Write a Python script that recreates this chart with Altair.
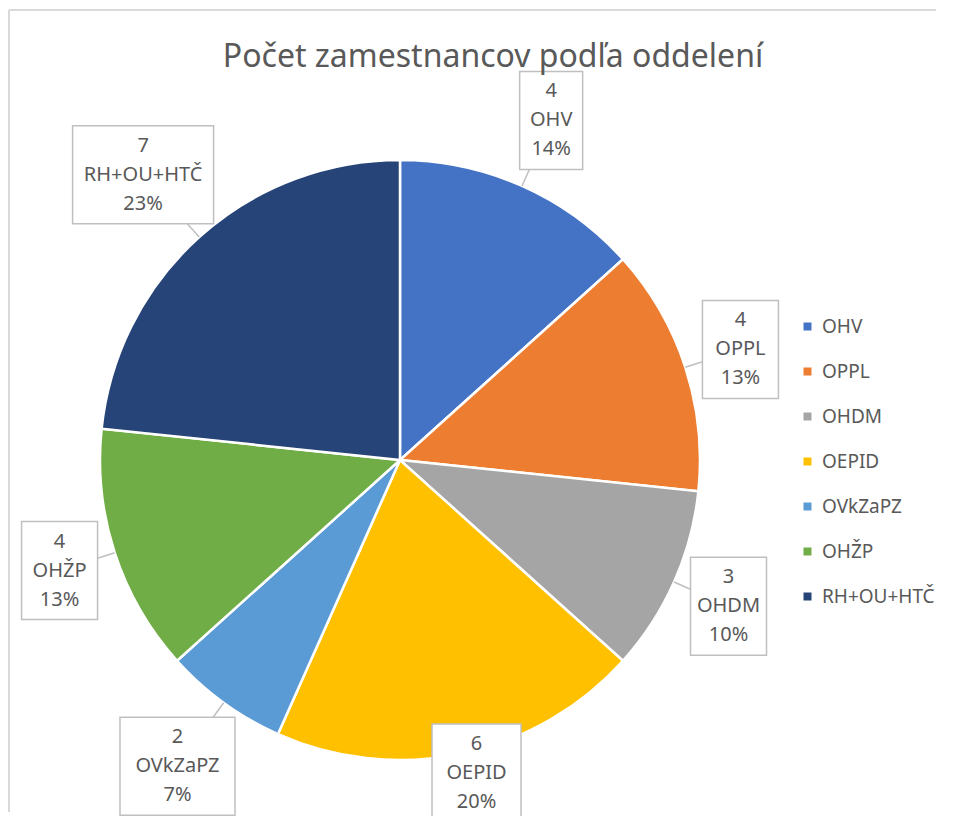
import altair as alt
import pandas as pd

# ---- data ----
categories = ["OHV", "OPPL", "OHDM", "OEPID", "OVkZaPZ", "OHŽP", "RH+OU+HTČ"]
counts = [4, 4, 3, 6, 2, 4, 7]
percent_labels = ["14%", "13%", "10%", "20%", "7%", "13%", "23%"]
colors = ["#4472C4", "#ED7D31", "#A5A5A5", "#FFC000", "#5B9BD5", "#70AD47", "#264478"]
title_text = "Počet zamestnancov podľa oddelení"

df = pd.DataFrame({
    "oddelenie": categories,
    "pocet": counts,
    "podiel": percent_labels,
    "poradie": list(range(len(categories))),
})

# ---- layout ----
W, H = 940, 808
CX, CY, R = 392, 452, 300
GAP = 18
BH = 98
YMAX = 765
FONT = "Segoe UI, Noto Sans, sans-serif"
GRAY = "#595959"

base = alt.Chart(df)

pie = base.mark_arc(stroke="white", strokeWidth=2.5, radius=R).encode(
    theta=alt.Theta("pocet:Q", stack=True),
    order=alt.Order("poradie:Q"),
    color=alt.Color(
        "oddelenie:N",
        sort=categories,
        scale=alt.Scale(domain=categories, range=colors),
        legend=alt.Legend(
            title=None, orient="none", legendX=790, legendY=309,
            symbolType="square", symbolSize=64, symbolStrokeWidth=0,
            labelFontSize=19, labelColor=GRAY, labelFont=FONT,
            rowPadding=25, labelOffset=5,
        ),
    ),
    x=alt.value(CX),
    y=alt.value(CY),
)

lab = base.transform_window(
    cum="sum(pocet)", sort=[alt.SortField("poradie")], frame=[None, 0]
).transform_joinaggregate(
    total="sum(pocet)"
).transform_calculate(
    mid="(datum.cum - datum.pocet/2) / datum.total * 2 * PI",
    ux="sin(datum.mid)",
    uy="-cos(datum.mid)",
    bw="13 * max(length(datum.oddelenie), length(datum.podiel)) + 24",
    ext=f"min(datum.bw/2/max(abs(datum.ux), 0.001), {BH/2}/max(abs(datum.uy), 0.001))",
    tipx=f"{CX} + {R} * datum.ux",
    tipy=f"{CY} + {R} * datum.uy",
    cx=f"{CX} + ({R + GAP} + datum.ext) * datum.ux",
    cy0=f"{CY} + ({R + GAP} + datum.ext) * datum.uy",
    cy=f"min(datum.cy0, {YMAX})",
    bx1="datum.cx - datum.bw/2",
    bx2="datum.cx + datum.bw/2",
    by1=f"datum.cy - {BH/2}",
    by2=f"datum.cy + {BH/2}",
)

leaders = lab.mark_rule(color="#BFBFBF", strokeWidth=1.5).encode(
    x=alt.X("tipx:Q", scale=None, axis=None),
    y=alt.Y("tipy:Q", scale=None, axis=None),
    x2="cx:Q",
    y2="cy:Q",
)

boxes = lab.mark_rect(fill="white", stroke="#BFBFBF", strokeWidth=1.5).encode(
    x=alt.X("bx1:Q", scale=None, axis=None),
    x2="bx2:Q",
    y=alt.Y("by1:Q", scale=None, axis=None),
    y2="by2:Q",
)

def line(field, dy):
    return lab.mark_text(fontSize=20, color=GRAY, font=FONT, baseline="middle", dy=dy).encode(
        x=alt.X("cx:Q", scale=None, axis=None),
        y=alt.Y("cy:Q", scale=None, axis=None),
        text=alt.Text(field),
    )

t1 = line("pocet:Q", -29)
t2 = line("oddelenie:N", 0)
t3 = line("podiel:N", 29)

one = alt.Data(values=[{}])
title = alt.Chart(one).mark_text(
    fontSize=32, color=GRAY, font=FONT, baseline="middle", align="center"
).encode(x=alt.value(485), y=alt.value(49), text=alt.value(title_text))

# chart-area frame: top and left edges only, kept inside the canvas
frame_top = alt.Chart(one).mark_rule(color="#D9D9D9", strokeWidth=2, strokeCap="butt").encode(
    x=alt.value(1), x2=alt.value(W - 12), y=alt.value(2), y2=alt.value(2)
)
frame_left = alt.Chart(one).mark_rule(color="#D9D9D9", strokeWidth=2, strokeCap="butt").encode(
    x=alt.value(1), x2=alt.value(1), y=alt.value(2), y2=alt.value(H - 4)
)

chart = alt.layer(
    frame_top, frame_left, pie, leaders, boxes, t1, t2, t3, title
).properties(
    width=W, height=H, autosize=alt.AutoSizeParams(type="none"), padding=0
).configure_view(strokeWidth=0, stroke="transparent")

chart.save("out.html", embed_options={"renderer": "svg", "actions": False})
